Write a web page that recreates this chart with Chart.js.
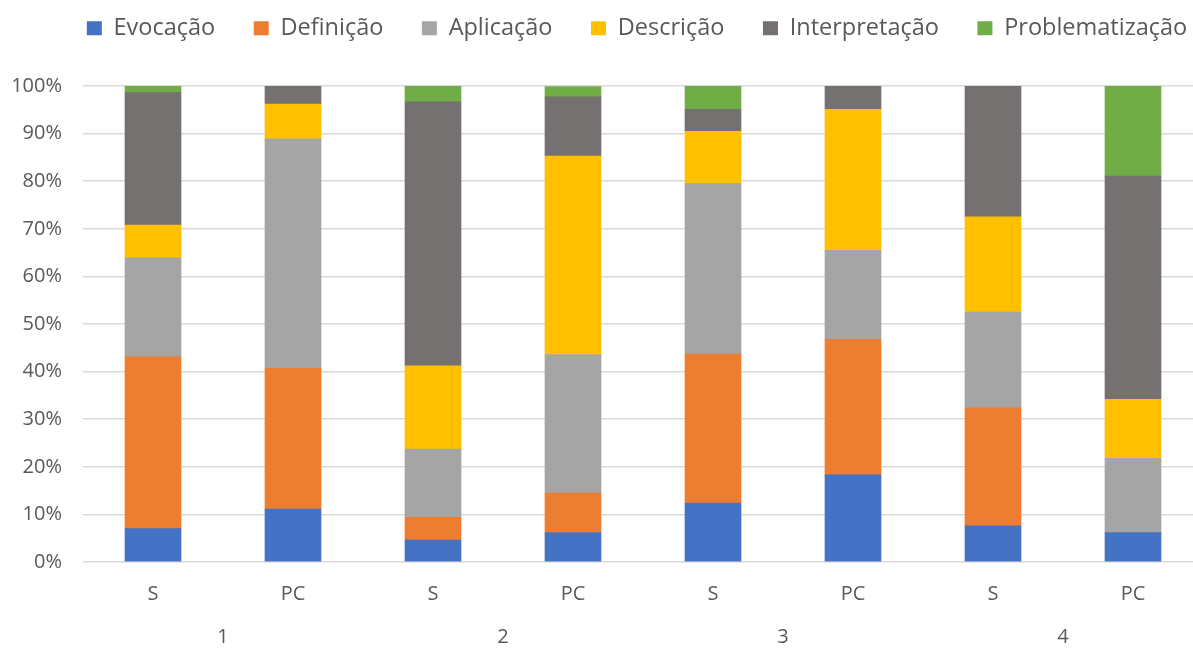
<!DOCTYPE html>
<html>
<head>
<meta charset="utf-8">
<script src="https://cdn.jsdelivr.net/npm/chart.js@4/dist/chart.umd.min.js"></script>
<style>
html,body{margin:0;padding:0;overflow:hidden;background:#fff;}
canvas{display:block;}
</style>
</head>
<body>
<canvas id="c" width="1274" height="648"></canvas>
<script>
const categories = ['S','PC','S','PC','S','PC','S','PC'];
const groups = ['1','2','3','4'];
const yTicks = [0,10,20,30,40,50,60,70,80,90,100];
const seriesNames = ['Evocação','Definição','Aplicação','Descrição','Interpretação','Problematização'];
const evocacao        = [7.0, 11.1, 4.6, 6.2, 12.4, 18.3, 7.6, 6.2];
const definicao       = [36.1, 29.6, 4.8, 8.3, 31.3, 28.5, 24.8, 0];
const aplicacao       = [20.8, 48.2, 14.3, 29.1, 35.8, 18.7, 20.1, 15.6];
const descricao       = [6.9, 7.3, 17.5, 41.7, 11.0, 29.6, 20.0, 12.4];
const interpretacao   = [27.8, 3.8, 55.5, 12.4, 4.6, 4.9, 27.5, 46.9];
const problematizacao = [1.4, 0, 3.3, 2.2, 4.9, 0, 0, 18.9];
const colors = ['#4472C4','#ED7D31','#A5A5A5','#FFC000','#767171','#70AD47'];

const seriesData = [evocacao, definicao, aplicacao, descricao, interpretacao, problematizacao];
const FONT = 'Open Sans';
const TXT = '#595959';
const LEGEND_H = 108;

const legendHeightPlugin = {
  id: 'legendHeight',
  beforeLayout(chart) {
    const lg = chart.legend;
    if (lg && !lg._wrapped) {
      const orig = lg.fit.bind(lg);
      lg.fit = function () { orig(); this.height = LEGEND_H; };
      lg._wrapped = true;
    }
  }
};

new Chart(document.getElementById('c'), {
  type: 'bar',
  data: {
    labels: categories,
    datasets: seriesNames.map((n, i) => ({
      label: n,
      data: seriesData[i],
      backgroundColor: colors[i],
      borderWidth: 0,
      barThickness: 56,
      xAxisID: 'x',
      yAxisID: 'y'
    }))
  },
  options: {
    responsive: false,
    animation: false,
    layout: { padding: { top: -22, left: 0, right: 0, bottom: 0 } },
    plugins: {
      tooltip: { enabled: false },
      legend: {
        position: 'top',
        labels: {
          font: { family: FONT, size: 23.5 },
          color: TXT,
          boxWidth: 15,
          boxHeight: 14,
          padding: 38.5
        }
      }
    },
    scales: {
      x: {
        stacked: true,
        position: 'bottom',
        grid: { display: false, drawTicks: false },
        border: { display: false },
        ticks: { font: { family: FONT, size: 20 }, color: TXT, padding: 20, maxRotation: 0 },
        afterFit: s => { s.height = 48; }
      },
      x2: {
        type: 'category',
        labels: groups,
        position: 'bottom',
        grid: { display: false, drawTicks: false },
        border: { display: false },
        ticks: { font: { family: FONT, size: 20 }, color: TXT, padding: 15, maxRotation: 0 },
        afterFit: s => { s.height = 38; }
      },
      y: {
        stacked: true,
        min: 0,
        max: 100,
        afterBuildTicks: s => { s.ticks = yTicks.map(v => ({ value: v })); },
        grid: { color: '#D9D9D9', lineWidth: 1.5, drawTicks: false },
        border: { display: false },
        ticks: { font: { family: FONT, size: 20 }, color: TXT, padding: 21, callback: v => v + '%' },
        afterFit: s => { s.width = 83; }
      },
      yR: {
        type: 'linear',
        position: 'right',
        display: true,
        grid: { display: false, drawTicks: false },
        border: { display: false },
        ticks: { display: false },
        afterFit: s => { s.width = 71; }
      }
    }
  },
  plugins: [legendHeightPlugin]
});
</script>
</body>
</html>
